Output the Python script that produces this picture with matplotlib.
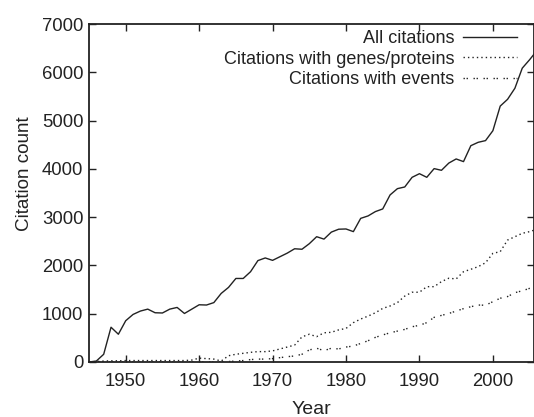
import matplotlib
matplotlib.use("Agg")
import matplotlib.pyplot as plt

years = list(range(1945, 2007))

all_citations = [0, 20, 160, 720, 575, 855, 985, 1055, 1095, 1020, 1015, 1095, 1130, 1005, 1095,
                 1185, 1180, 1230, 1420, 1545, 1730, 1730, 1870, 2100, 2155, 2105, 2180, 2255,
                 2345, 2335, 2450, 2595, 2545, 2690, 2750, 2755, 2700, 2975, 3025, 3115, 3170,
                 3460, 3590, 3625, 3825, 3900, 3825, 4005, 3970, 4120, 4205, 4150, 4480, 4550,
                 4585, 4790, 5300, 5440, 5670, 6085, 6260, 6450]

genes_proteins = [0, 10, 20, 25, 25, 30, 30, 30, 30, 30, 30, 30, 30, 30, 40,
                  80, 70, 60, 20, 130, 160, 180, 200, 215, 215, 230, 270, 310,
                  350, 520, 575, 525, 605, 615, 665, 695, 815, 890, 950, 1020, 1110,
                  1160, 1230, 1365, 1445, 1445, 1560, 1560, 1665, 1735, 1720, 1870, 1920, 1975,
                  2055, 2250, 2285, 2525, 2595, 2665, 2700, 2750]

with_events = [0, 0, 0, 0, 0, 0, 0, 0, 0, 0, 0, 0, 0, 0, 0,
               0, 0, 0, 0, 10, 20, 30, 50, 60, 60, 70, 90, 110,
               125, 160, 250, 285, 235, 285, 270, 310, 330, 385, 440, 510, 560,
               605, 640, 675, 730, 760, 815, 925, 965, 1005, 1055, 1105, 1145, 1180,
               1175, 1250, 1320, 1355, 1435, 1475, 1525, 1560]

labels = ["All citations", "Citations with genes/proteins", "Citations with events"]

plt.rcParams['font.family'] = ['Liberation Sans', 'DejaVu Sans']
fig = plt.figure(figsize=(5.34, 4.17), dpi=100)
ax = fig.add_axes([89/534, 1-362/417, 1-89/534, (362-24)/417])

c = '#222222'
fs = 13.3
ax.plot(years, all_citations, color=c, lw=1.0, label=labels[0])
ax.plot(years, genes_proteins, color=c, lw=1.0, linestyle=(0, (1, 2.2)), label=labels[1])
ax.plot(years, with_events, color=c, lw=1.0, linestyle=(0, (1, 1.2, 1, 4)), label=labels[2])

ax.set_xlim(1945, 2005.6)
ax.set_ylim(0, 7000)
ax.set_xticks([1950, 1960, 1970, 1980, 1990, 2000])
ax.set_yticks(range(0, 7001, 1000))
ax.tick_params(direction='in', length=5, width=1, top=True, right=True, labelsize=fs, colors='#222222')
ax.tick_params(axis='x', pad=8)
ax.tick_params(axis='y', pad=4)
for s in ax.spines.values():
    s.set_linewidth(1.3)
    s.set_color('#222222')
ax.set_xlabel("Year", fontsize=14, color='#222222', labelpad=8)
ax.set_ylabel("Citation count", fontsize=13.6, color='#222222')
ax.yaxis.set_label_coords(-0.125, 0.558)

leg = ax.legend(loc='upper right', frameon=False, fontsize=13, markerfirst=False,
                handlelength=3.0, handletextpad=0.45, labelspacing=0.2,
                borderaxespad=0, borderpad=0, bbox_to_anchor=(0.9618, 0.982))
for t in leg.get_texts():
    t.set_color('#222222')

fig.savefig("out.png", dpi=100)
